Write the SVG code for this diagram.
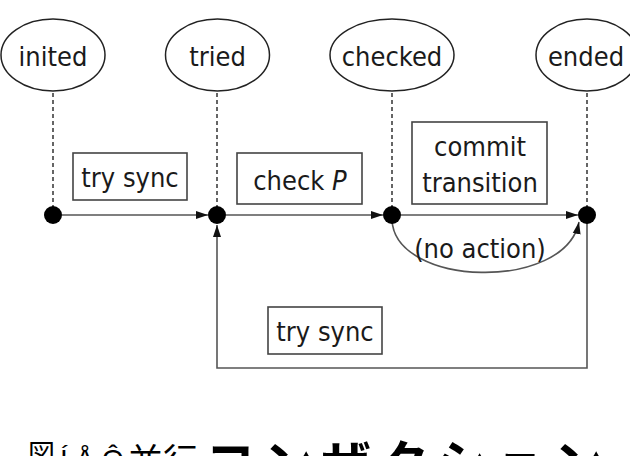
<svg xmlns="http://www.w3.org/2000/svg" width="630" height="456" viewBox="0 0 630 456">
<style>
text{font-family:"DejaVu Sans Condensed","DejaVu Sans",sans-serif;font-size:27px;fill:#1a1a1a;text-anchor:middle}
.st{fill:none;stroke:#222;stroke-width:1.5}
.box{fill:#fff;stroke:#444;stroke-width:1.6}
.life{stroke:#333;stroke-width:1.5;stroke-dasharray:4 3;fill:none}
.dot{fill:#000}
.conn{fill:none;stroke:#555;stroke-width:1.6}
text.cap{font-family:"Noto Sans CJK JP","Liberation Sans",sans-serif;text-anchor:start;fill:#000}
</style>
<defs>
<marker id="ah" viewBox="0 0 12 10" refX="12" refY="5" markerWidth="12" markerHeight="10" markerUnits="userSpaceOnUse" orient="auto">
<path d="M0,1 L12,5 L0,9 Z" fill="#111"/>
</marker>
</defs>
<rect width="630" height="456" fill="#fff"/>

<g id="connectors">
<line class="life" x1="53" y1="93" x2="53" y2="210"/>
<line class="life" x1="217" y1="93" x2="217" y2="210"/>
<line class="life" x1="392" y1="93" x2="392" y2="210"/>
<line class="life" x1="587" y1="93" x2="587" y2="210"/>
<line class="conn" x1="62" y1="215" x2="208" y2="215" marker-end="url(#ah)"/>
<line class="conn" x1="226" y1="215" x2="383" y2="215" marker-end="url(#ah)"/>
<line class="conn" x1="401" y1="215" x2="578" y2="215" marker-end="url(#ah)"/>
<path class="conn" d="M392,220 C395,287 565,292 579,222" marker-end="url(#ah)"/>
<path class="conn" d="M587,222 V368 H217 V225" marker-end="url(#ah)"/>
</g>

<g id="inited">
<ellipse class="st" cx="53" cy="55" rx="52" ry="36"/>
<text x="53" y="66">inited</text>
<circle class="dot" cx="53" cy="215" r="9"/>
</g>
<g id="tried">
<ellipse class="st" cx="217.5" cy="55" rx="52" ry="36"/>
<text x="217.5" y="66">tried</text>
<circle class="dot" cx="217" cy="215" r="9"/>
</g>
<g id="checked">
<ellipse class="st" cx="392" cy="55" rx="62" ry="36"/>
<text x="392" y="66">checked</text>
<circle class="dot" cx="392" cy="215" r="9"/>
</g>
<g id="ended">
<ellipse class="st" cx="587" cy="55" rx="51" ry="36"/>
<text x="586" y="66">ended</text>
<circle class="dot" cx="587" cy="215" r="9"/>
</g>

<g id="label-try-sync-1">
<rect class="box" x="73" y="153" width="114" height="47"/>
<text x="130" y="187">try sync</text>
</g>
<g id="label-check-p">
<rect class="box" x="237" y="153" width="125" height="51"/>
<text x="300" y="190">check <tspan font-style="italic">P</tspan></text>
</g>
<g id="label-commit">
<rect class="box" x="412" y="122" width="135" height="82"/>
<text x="480" y="156">commit</text>
<text x="480" y="192">transition</text>
</g>
<g id="label-no-action">
<text x="480" y="258">(no action)</text>
</g>
<g id="label-try-sync-2">
<rect class="box" x="268" y="307" width="114" height="47"/>
<text x="325" y="341">try sync</text>
</g>

<g id="caption">
<text class="cap" x="28" y="464" style="font-size:27px">図</text>
<text class="cap" x="60" y="469" style="font-size:28px;font-family:'Liberation Sans',sans-serif">Í Å Ô</text>
<text class="cap" x="128" y="474" style="font-size:35px">並行</text>
<text class="cap" x="205" y="482" style="font-size:50px;font-weight:bold;letter-spacing:8px">コンザクション</text>
</g>
</svg>
